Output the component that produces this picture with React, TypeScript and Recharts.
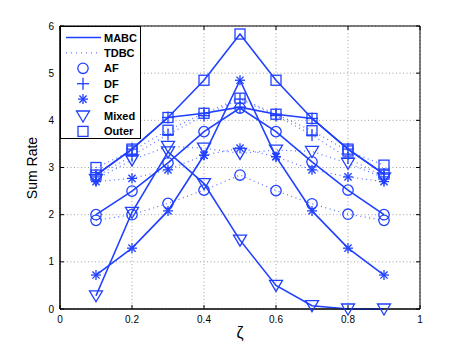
import { LineChart, Line, XAxis, YAxis, CartesianGrid, ReferenceArea, Legend, Label } from 'recharts';

// relay position
const zeta = [0.1, 0.2, 0.3, 0.4, 0.5, 0.6, 0.7, 0.8, 0.9];

// MABC protocol (solid)
const mabcAF = [2.0, 2.5, 3.1, 3.76, 4.26, 3.76, 3.12, 2.52, 2.0];
const mabcDF = [2.84, 3.39, 4.06, 4.15, 4.28, 4.13, 4.04, 3.39, 2.86];
const mabcCF = [0.72, 1.29, 2.08, 3.26, 4.85, 3.23, 2.08, 1.29, 0.72];
const mabcMixed = [0.28, 2.05, 3.33, 2.66, 1.46, 0.5, 0.07, 0.0, 0.0];
const mabcOuter = [2.84, 3.39, 4.06, 4.85, 5.83, 4.85, 4.04, 3.39, 2.86];

// TDBC protocol (dotted)
const tdbcAF = [1.88, 2.0, 2.24, 2.52, 2.84, 2.51, 2.23, 2.01, 1.88];
const tdbcDF = [2.8, 3.25, 3.7, 4.1, 4.45, 4.1, 3.69, 3.2, 2.8];
const tdbcCF = [2.7, 2.77, 2.95, 3.26, 3.41, 3.23, 2.95, 2.8, 2.7];
const tdbcMixed = [2.75, 3.16, 3.45, 3.41, 3.3, 3.37, 3.34, 3.09, 2.78];
const tdbcOuter = [3.0, 3.35, 3.79, 4.15, 4.47, 4.13, 3.78, 3.35, 3.05];

const xTicks = [0, 0.2, 0.4, 0.6, 0.8, 1];
const yTicks = [0, 1, 2, 3, 4, 5, 6];

const legendItems = ['MABC', 'TDBC', 'AF', 'DF', 'CF', 'Mixed', 'Outer'];

const data = zeta.map((z, i) => ({
  zeta: z,
  mabcAF: mabcAF[i],
  mabcDF: mabcDF[i],
  mabcCF: mabcCF[i],
  mabcMixed: mabcMixed[i],
  mabcOuter: mabcOuter[i],
  tdbcAF: tdbcAF[i],
  tdbcDF: tdbcDF[i],
  tdbcCF: tdbcCF[i],
  tdbcMixed: tdbcMixed[i],
  tdbcOuter: tdbcOuter[i],
}));

const BLUE = '#1f40ff';
const FONT = '"Liberation Sans", Arial, Helvetica, sans-serif';

// plot box
const LEFT = 60;
const RIGHT = 420;
const TOP = 26;
const BOTTOM = 309;
const TICK = 4;

type Shape = 'circle' | 'plus' | 'star' | 'tri' | 'square';

const series: { key: string; shape: Shape; dotted: boolean }[] = [
  { key: 'tdbcAF', shape: 'circle', dotted: true },
  { key: 'tdbcDF', shape: 'plus', dotted: true },
  { key: 'tdbcCF', shape: 'star', dotted: true },
  { key: 'tdbcMixed', shape: 'tri', dotted: true },
  { key: 'tdbcOuter', shape: 'square', dotted: true },
  { key: 'mabcAF', shape: 'circle', dotted: false },
  { key: 'mabcDF', shape: 'plus', dotted: false },
  { key: 'mabcCF', shape: 'star', dotted: false },
  { key: 'mabcMixed', shape: 'tri', dotted: false },
  { key: 'mabcOuter', shape: 'square', dotted: false },
];

function Marker({ shape, cx, cy }: { shape: Shape; cx: number; cy: number }) {
  const p = { stroke: BLUE, strokeWidth: 1.3, fill: 'none' };
  switch (shape) {
    case 'circle':
      return <circle cx={cx} cy={cy} r={5.2} {...p} />;
    case 'square':
      return <rect x={cx - 5} y={cy - 5} width={10} height={10} {...p} />;
    case 'tri':
      return <polygon points={`${cx - 6.5},${cy - 5} ${cx + 6.5},${cy - 5} ${cx},${cy + 6}`} {...p} />;
    case 'plus':
      return (
        <g {...p}>
          <line x1={cx - 6} x2={cx + 6} y1={cy} y2={cy} />
          <line x1={cx} x2={cx} y1={cy - 6} y2={cy + 6} />
        </g>
      );
    case 'star':
      return (
        <g {...p}>
          <line x1={cx - 5} x2={cx + 5} y1={cy} y2={cy} />
          <line x1={cx} x2={cx} y1={cy - 5} y2={cy + 5} />
          <line x1={cx - 3.6} x2={cx + 3.6} y1={cy - 3.6} y2={cy + 3.6} />
          <line x1={cx - 3.6} x2={cx + 3.6} y1={cy + 3.6} y2={cy - 3.6} />
        </g>
      );
  }
  return null;
}

const XTick = (props: any) => {
  const { x, payload } = props;
  const v = payload.value;
  return (
    <g>
      <line x1={x} x2={x} y1={BOTTOM} y2={BOTTOM - TICK} stroke="#000" />
      <line x1={x} x2={x} y1={TOP} y2={TOP + TICK} stroke="#000" />
      <text x={x} y={BOTTOM + 14} textAnchor="middle" fontSize={10} fontFamily={FONT} fill="#000">
        {v === 0 || v === 1 ? String(v) : v.toFixed(1)}
      </text>
    </g>
  );
};

const YTick = (props: any) => {
  const { y, payload } = props;
  return (
    <g>
      <line x1={LEFT} x2={LEFT + TICK} y1={y} y2={y} stroke="#000" />
      <line x1={RIGHT} x2={RIGHT - TICK} y1={y} y2={y} stroke="#000" />
      <text x={LEFT - 6} y={y + 3.5} textAnchor="end" fontSize={10} fontFamily={FONT} fill="#000">
        {payload.value}
      </text>
    </g>
  );
};

const legendShapes: (Shape | 'solid' | 'dotted')[] = ['solid', 'dotted', 'circle', 'plus', 'star', 'tri', 'square'];

const LegendBox = () => (
  <div
    style={{
      width: 79,
      height: 111,
      background: '#fff',
      border: '1px solid #000',
      position: 'relative',
      fontFamily: FONT,
    }}
  >
    <svg width={79} height={111} style={{ position: 'absolute', left: 0, top: 0 }}>
      {legendItems.map((name, i) => {
        const cy = 10.5 + i * 15.4 + (i >= 5 ? 1.5 : 0);
        const s = legendShapes[i];
        return (
          <g key={name}>
            {s === 'solid' && <line x1={5} x2={40} y1={cy} y2={cy} stroke={BLUE} strokeWidth={1.6} />}
            {s === 'dotted' && (
              <line x1={5} x2={40} y1={cy} y2={cy} stroke={BLUE} strokeWidth={1.2} strokeDasharray="1 4" opacity={0.7} />
            )}
            {s !== 'solid' && s !== 'dotted' && <Marker shape={s} cx={22} cy={cy} />}
            <text x={43} y={cy + 4} fontSize={11} fontWeight="bold" fontFamily={FONT} fill="#000">
              {name}
            </text>
          </g>
        );
      })}
    </svg>
  </div>
);

export default function App() {
  return (
    <div style={{ position: 'absolute', left: 0, top: 0, width: 463, height: 348, background: '#fff' }}>
      <LineChart width={463} height={348} data={data} margin={{ top: TOP, right: 463 - RIGHT, left: 0, bottom: 0 }}>
        <CartesianGrid stroke="#a0a0a0" strokeDasharray="1 2.5" />
        <ReferenceArea x1={0} x2={1} y1={0} y2={6} fill="none" stroke="#000" strokeWidth={1} ifOverflow="visible" />
        <XAxis
          dataKey="zeta"
          type="number"
          domain={[0, 1]}
          ticks={xTicks}
          height={348 - BOTTOM}
          tickLine={false}
          tickSize={0}
          tickMargin={0}
          axisLine={{ stroke: '#000' }}
          tick={<XTick />}
          interval={0}
        >
          <Label
            content={() => (
              <text x={240} y={338} textAnchor="middle" fontSize={16} fontFamily={FONT} fill="#000">
                ζ
              </text>
            )}
          />
        </XAxis>
        <YAxis
          type="number"
          domain={[0, 6]}
          ticks={yTicks}
          width={LEFT}
          tickLine={false}
          tickSize={0}
          tickMargin={0}
          axisLine={{ stroke: '#000' }}
          tick={<YTick />}
          interval={0}
        >
          <Label
            content={() => (
              <text
                x={37}
                y={168}
                transform="rotate(-90 37 168)"
                textAnchor="middle"
                fontSize={14}
                fontFamily={FONT}
                fill="#000"
              >
                Sum Rate
              </text>
            )}
          />
        </YAxis>
        {series.map((s) => (
          <Line
            key={s.key}
            dataKey={s.key}
            type="linear"
            stroke={BLUE}
            strokeWidth={s.dotted ? 1.2 : 1.6}
            strokeDasharray={s.dotted ? '1 3.5' : undefined}
            strokeOpacity={s.dotted ? 0.75 : 1}
            isAnimationActive={false}
            dot={(p: any) => <Marker key={`${s.key}-${p.index}`} shape={s.shape} cx={p.cx} cy={p.cy} />}
            activeDot={false}
          />
        ))}
        <Legend
          layout="vertical"
          align="center"
          verticalAlign="middle"
          wrapperStyle={{ left: LEFT, top: TOP, width: 81, height: 113 }}
          content={() => <LegendBox />}
        />
      </LineChart>
    </div>
  );
}
